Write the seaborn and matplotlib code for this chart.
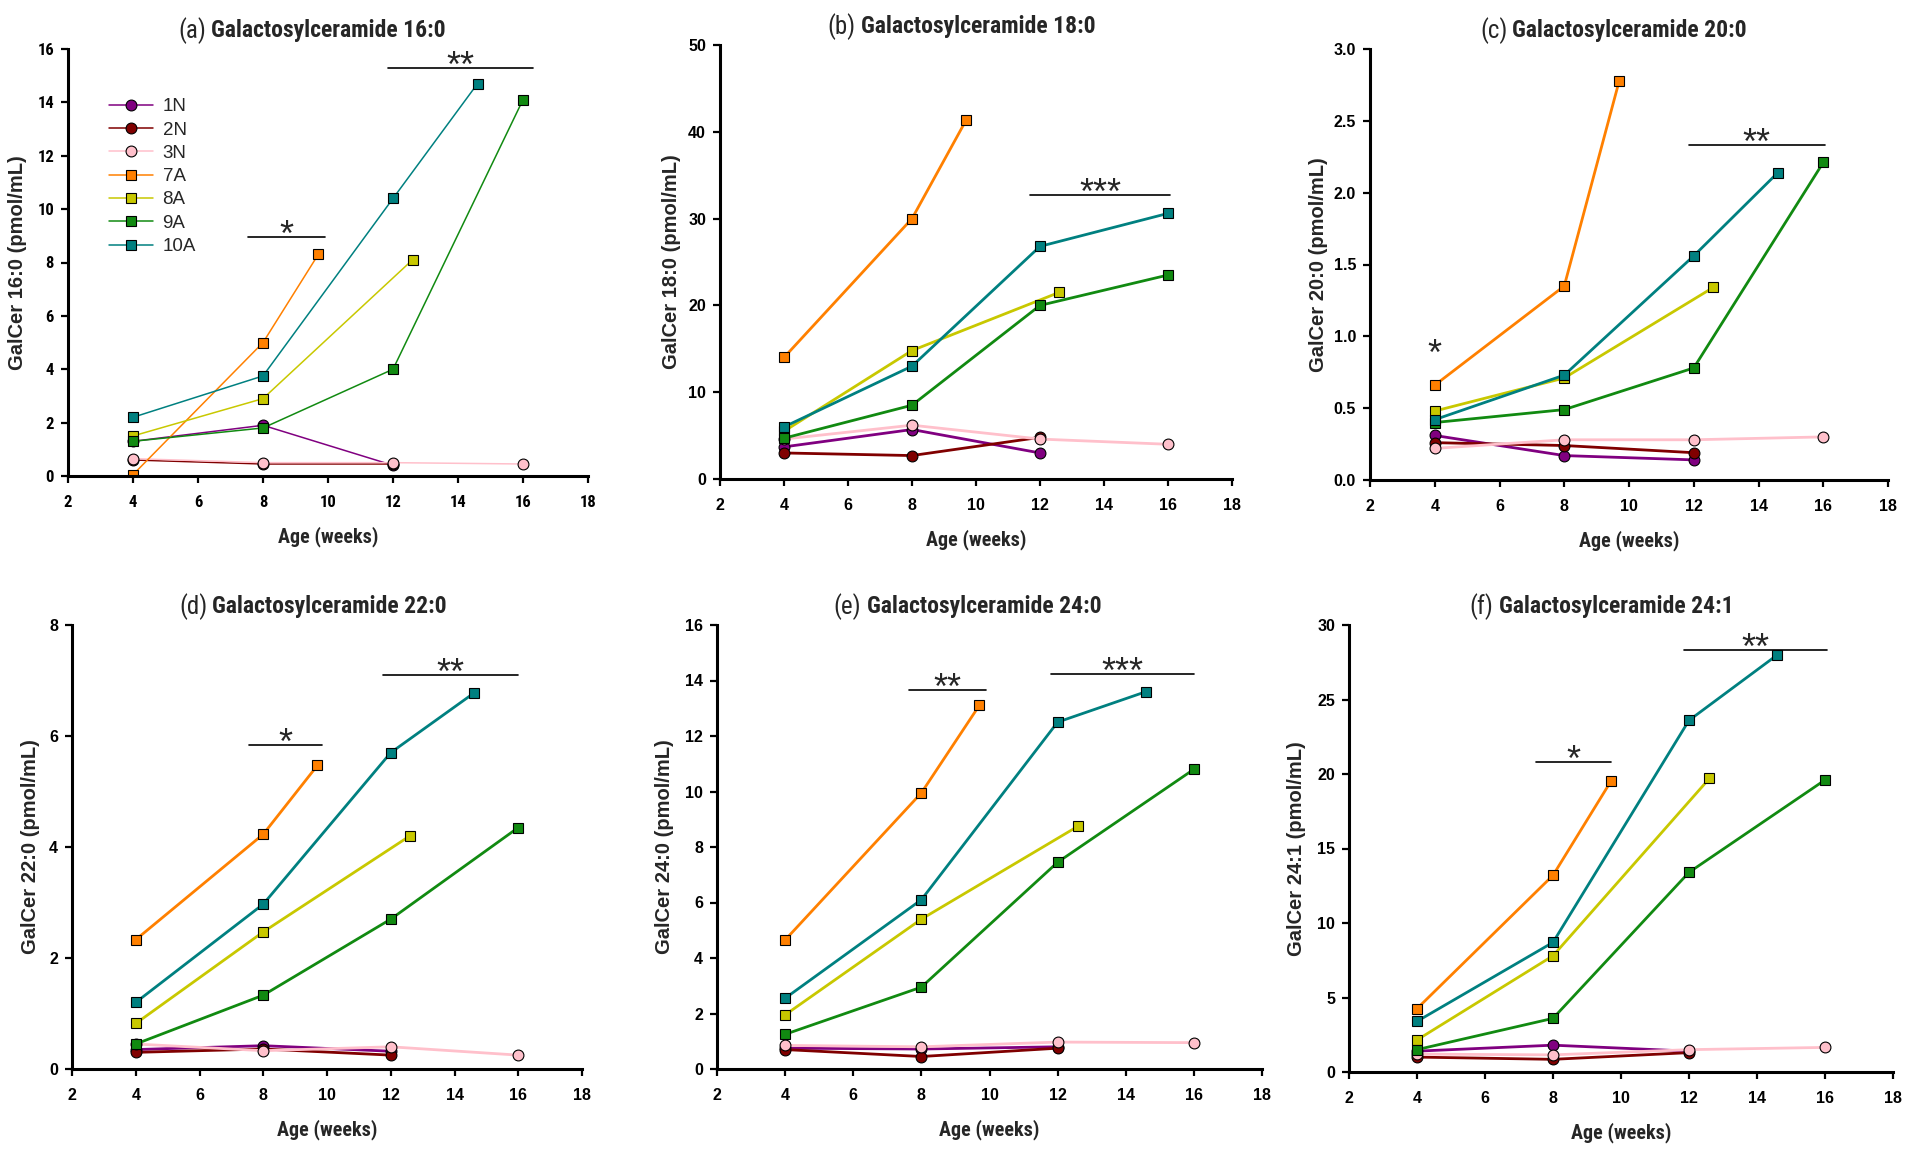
import seaborn as sns
import pandas as pd
import numpy as np
import matplotlib.pyplot as plt
from matplotlib import font_manager

groups = ['1N', '2N', '3N', '7A', '8A', '9A', '10A']
colors = {'1N': '#800080', '2N': '#800000', '3N': '#FFC0CB', '7A': '#FF8000',
          '8A': '#C8C800', '9A': '#118A11', '10A': '#008080'}
markers = {'1N': 'o', '2N': 'o', '3N': 'o', '7A': 's', '8A': 's', '9A': 's', '10A': 's'}

# age (weeks) at which each group was sampled
age_1N = [4, 8, 12]
age_2N = [4, 8, 12]
age_3N = [4, 8, 12, 16]
age_7A = [4, 8, 9.7]
age_8A = [4, 8, 12.6]
age_9A = [4, 8, 12, 16]
age_10A = [4, 8, 12, 14.6]
age_10A_b = [4, 8, 12, 16]

# GalCer values (pmol/mL), one dict per panel
galcer_16_0 = {'1N': [1.3, 1.9, 0.4], '2N': [0.6, 0.45, 0.45], '3N': [0.65, 0.5, 0.5, 0.45],
               '7A': [0.05, 5.0, 8.3], '8A': [1.5, 2.9, 8.1], '9A': [1.3, 1.8, 4.0, 14.1],
               '10A': [2.2, 3.75, 10.4, 14.7]}
galcer_18_0 = {'1N': [3.7, 5.7, 3.0], '2N': [3.0, 2.7, 4.8], '3N': [4.6, 6.2, 4.6, 4.0],
               '7A': [14.0, 30.0, 41.4], '8A': [5.5, 14.8, 21.5], '9A': [4.7, 8.5, 20.0, 23.5],
               '10A': [6.0, 13.0, 26.8, 30.6]}
galcer_20_0 = {'1N': [0.31, 0.17, 0.14], '2N': [0.26, 0.24, 0.19], '3N': [0.22, 0.28, 0.28, 0.30],
               '7A': [0.66, 1.35, 2.78], '8A': [0.48, 0.71, 1.34], '9A': [0.40, 0.49, 0.78, 2.21],
               '10A': [0.42, 0.73, 1.56, 2.14]}
galcer_22_0 = {'1N': [0.35, 0.42, 0.32], '2N': [0.3, 0.36, 0.25], '3N': [0.45, 0.33, 0.4, 0.25],
               '7A': [2.33, 4.23, 5.47], '8A': [0.82, 2.47, 4.2], '9A': [0.45, 1.33, 2.7, 4.35],
               '10A': [1.2, 2.97, 5.7, 6.77]}
galcer_24_0 = {'1N': [0.75, 0.72, 0.8], '2N': [0.7, 0.45, 0.75], '3N': [0.85, 0.8, 0.97, 0.95],
               '7A': [4.65, 9.95, 13.1], '8A': [1.95, 5.4, 8.75], '9A': [1.25, 2.95, 7.45, 10.8],
               '10A': [2.55, 6.1, 12.5, 13.6]}
galcer_24_1 = {'1N': [1.4, 1.8, 1.4], '2N': [1.0, 0.85, 1.3], '3N': [1.2, 1.15, 1.5, 1.65],
               '7A': [4.25, 13.2, 19.5], '8A': [2.15, 7.8, 19.7], '9A': [1.5, 3.6, 13.4, 19.6],
               '10A': [3.4, 8.7, 23.6, 28.0]}

ages = {'1N': age_1N, '2N': age_2N, '3N': age_3N, '7A': age_7A,
        '8A': age_8A, '9A': age_9A, '10A': age_10A}

# tag, title, y label, values, y max, y step, tick format, significance marks (x0, x1, y, stars)
panels = [
    ('(a)', 'Galactosylceramide 16:0', 'GalCer 16:0 (pmol/mL)', galcer_16_0, 16, 2, '%d',
     [(7.55, 9.9, 8.95, '*'), (11.85, 16.3, 15.3, '**')]),
    ('(b)', 'Galactosylceramide 18:0', 'GalCer 18:0 (pmol/mL)', galcer_18_0, 50, 10, '%d',
     [(11.7, 16.05, 32.7, '***')]),
    ('(c)', 'Galactosylceramide 20:0', 'GalCer 20:0 (pmol/mL)', galcer_20_0, 3.0, 0.5, '%.1f',
     [(11.85, 16.05, 2.33, '**'), (4, 4, 0.86, '*')]),
    ('(d)', 'Galactosylceramide 22:0', 'GalCer 22:0 (pmol/mL)', galcer_22_0, 8, 2, '%d',
     [(7.55, 9.85, 5.83, '*'), (11.75, 16.0, 7.1, '**')]),
    ('(e)', 'Galactosylceramide 24:0', 'GalCer 24:0 (pmol/mL)', galcer_24_0, 16, 2, '%d',
     [(7.65, 9.9, 13.65, '**'), (11.8, 16.0, 14.25, '***')]),
    ('(f)', 'Galactosylceramide 24:1', 'GalCer 24:1 (pmol/mL)', galcer_24_1, 30, 5, '%d',
     [(7.5, 9.7, 20.8, '*'), (11.85, 16.05, 28.35, '**')]),
]

# axes boxes in pixels: left, right, top, bottom
W, H = 1910, 1151
boxes_px = [(68, 588, 49, 476), (720, 1232, 45, 479), (1370, 1888, 49, 480),
            (72, 582, 625, 1069), (717, 1262, 625, 1069), (1349, 1893, 625, 1072)]
ylabel_dx = [-50, -49, -52, -41, -53, -53]


def find_narrow():
    fl = font_manager.fontManager.ttflist
    names = {f.name for f in fl}
    for n in ['Liberation Sans Narrow', 'Arial Narrow', 'Roboto Condensed', 'Open Sans Condensed']:
        if n in names:
            return {'family': [n, 'DejaVu Sans']}
    for f in fl:
        if f.stretch in ('condensed', 'semi-condensed') and f.name in ('Liberation Sans', 'Roboto',
                                                                        'Open Sans', 'DejaVu Sans'):
            return {'family': [f.name, 'DejaVu Sans'], 'stretch': f.stretch}
    return None


sns.set_style('ticks')
plt.rcParams['font.family'] = ['Liberation Sans', 'DejaVu Sans']
narrow = find_narrow()
if narrow is None:
    narrow = {'family': ['Liberation Sans', 'DejaVu Sans']}
    fs_title, fs_xlab, fs_atick = 14.5, 12.5, 10.5
else:
    fs_title, fs_xlab, fs_atick = 17, 14.5, 12
regular = {'family': ['Liberation Sans', 'DejaVu Sans']}

fig = plt.figure(figsize=(W / 100, H / 100), dpi=100)

for i, (tag, title, ylab, vals, ymax, ystep, fmt, sigs) in enumerate(panels):
    l, r, t, b = boxes_px[i]
    ax = fig.add_axes([l / W, 1 - b / H, (r - l) / W, (b - t) / H])
    hpx = b - t
    wpx = r - l
    rows = []
    for g in groups:
        xs = age_10A_b if (i == 1 and g == '10A') else ages[g]
        for x, v in zip(xs, vals[g]):
            rows.append({'age': x, 'value': v, 'group': g})
    df = pd.DataFrame(rows)
    lw = 1.1 if i == 0 else 2.0
    sns.lineplot(data=df, x='age', y='value', hue='group', style='group', hue_order=groups,
                 style_order=groups, palette=colors, markers=markers, dashes=False,
                 markersize=7.8, markeredgecolor='black', markeredgewidth=0.8,
                 linewidth=lw, legend=(i == 0), ax=ax)
    ax.set_xlim(2, 18)
    ax.set_ylim(0, ymax)
    ax.set_xticks(np.arange(2, 19, 2))
    ax.set_yticks(np.arange(0, ymax + ystep / 2, ystep))
    ax.yaxis.set_major_formatter(plt.FormatStrFormatter(fmt))
    sns.despine(ax=ax)
    for s in ['left', 'bottom']:
        ax.spines[s].set_linewidth(2.2)
        ax.spines[s].set_color('black')
    ax.tick_params(axis='both', direction='out', length=5, width=1.6, colors='black')
    ax.tick_params(axis='x', pad=9)
    ax.tick_params(axis='y', pad=5)
    tprops = narrow if i == 0 else regular
    tsize = fs_atick if i == 0 else 11.5
    for lab in ax.get_xticklabels() + ax.get_yticklabels():
        lab.set_fontweight('bold')
        lab.set_fontsize(tsize)
        lab.set_fontfamily(tprops['family'])
        if 'stretch' in tprops:
            lab.set_fontstretch(tprops['stretch'])
    ax.set_xlabel('Age (weeks)', fontsize=fs_xlab, fontweight='bold', va='center', **narrow)
    ax.xaxis.set_label_coords(0.5, -61 / hpx)
    ax.set_ylabel(ylab, fontsize=14.5, fontweight='bold', va='center', **regular)
    ax.yaxis.set_label_coords(ylabel_dx[i] / wpx, 0.5)
    ax.annotate(tag, xy=(0.265, 1), xycoords='axes fraction', xytext=(0, 18),
                textcoords='offset pixels', ha='right', va='center', fontsize=fs_title + 1, **narrow)
    ax.annotate(title, xy=(0.275, 1), xycoords='axes fraction', xytext=(0, 18),
                textcoords='offset pixels', ha='left', va='center', fontsize=fs_title,
                fontweight='bold', **narrow)
    for x0, x1, y, star in sigs:
        if x1 > x0:
            ax.plot([x0, x1], [y, y], color='black', lw=1.2, clip_on=False)
        ax.annotate(star, xy=((x0 + x1) / 2, y), xytext=(0, -9), textcoords='offset pixels',
                    ha='center', va='baseline', fontsize=26, annotation_clip=False, **regular)
    if i == 0:
        handles, labels = ax.get_legend_handles_labels()
        ax.legend(handles, labels, loc='upper left', bbox_to_anchor=(0.079, 0.885), frameon=False,
                  prop={'family': regular['family'], 'size': 13.5}, handlelength=2.35,
                  handletextpad=0.5, labelspacing=0.33, borderaxespad=0, borderpad=0)

fig.savefig('out.png', dpi=100, facecolor='white')
